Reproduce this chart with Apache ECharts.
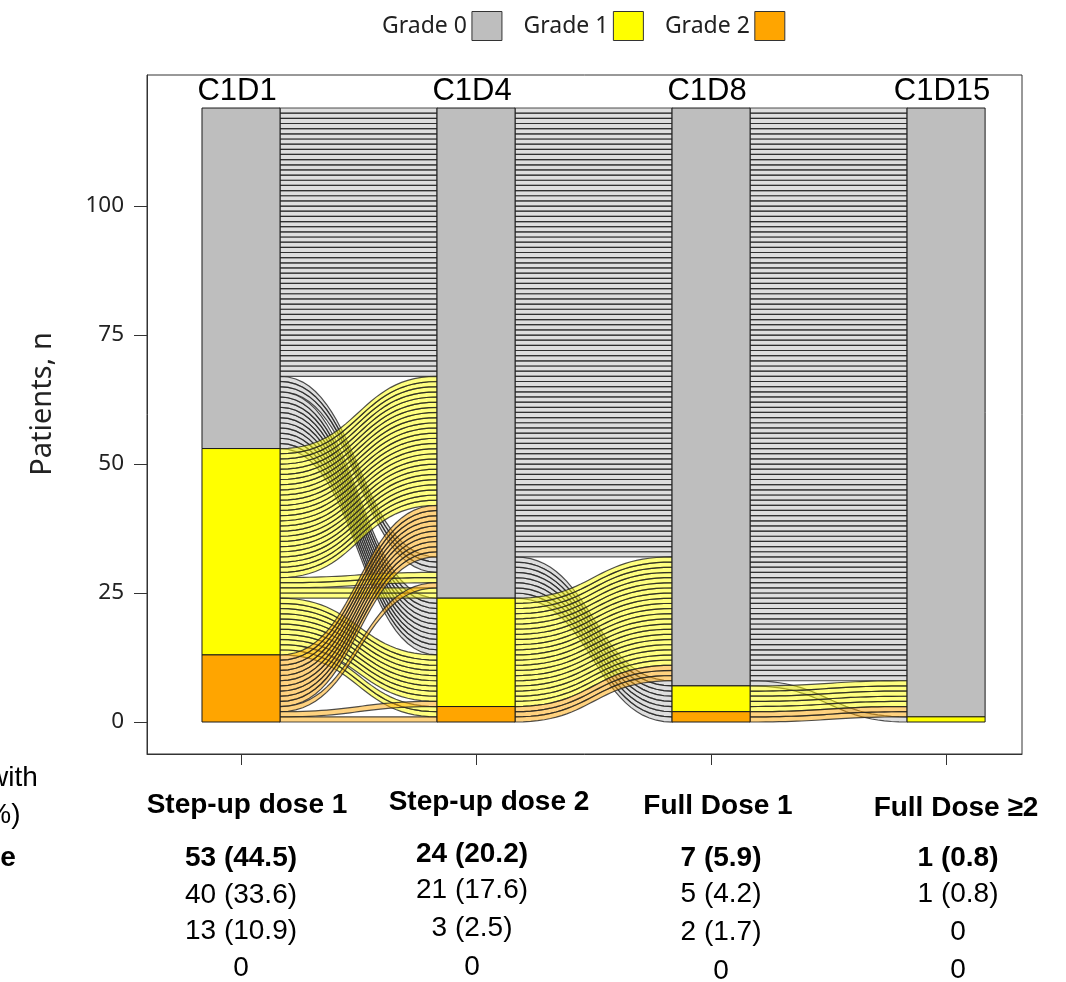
<!DOCTYPE html>
<html><head><meta charset="utf-8">
<script src="https://cdn.jsdelivr.net/npm/echarts@6/dist/echarts.min.js"></script>
<style>html,body{margin:0;padding:0;background:#fff}#c{width:1066px;height:982px}</style>
</head><body><div id="c"></div>
<script>
// ---------- data ----------
const stages = ['C1D1', 'C1D4', 'C1D8', 'C1D15'];
const doseLabels = ['Step-up dose 1', 'Step-up dose 2', 'Full Dose 1', 'Full Dose \u22652'];
const gradeNames = ['Grade 0', 'Grade 1', 'Grade 2'];
// patient paths (grade at each visit) and number of patients following each path
const pathCount = [52, 1, 2, 11, 25, 2, 2, 9, 2, 10, 1, 1, 1];
const pathC1D1  = [0, 0, 0, 0, 1, 1, 1, 1, 1, 2, 2, 2, 2];
const pathC1D4  = [0, 0, 0, 1, 0, 0, 0, 1, 2, 0, 0, 1, 2];
const pathC1D8  = [0, 0, 1, 0, 0, 1, 2, 0, 0, 0, 1, 0, 0];
const pathC1D15 = [0, 1, 0, 0, 0, 0, 0, 0, 0, 0, 0, 0, 0];
const yTicks = [0, 25, 50, 75, 100];
const yTitle = 'Patients, n';
// table under the chart
const rowLabels = ['Any grade', 'Grade 1', 'Grade 2', 'Grade \u22653'];
const headLabels = ['Patients with', 'CRS, n (%)'];
const anyGradeRow = ['53 (44.5)', '24 (20.2)', '7 (5.9)', '1 (0.8)'];
const grade1Row   = ['40 (33.6)', '21 (17.6)', '5 (4.2)', '1 (0.8)'];
const grade2Row   = ['13 (10.9)', '3 (2.5)', '2 (1.7)', '0'];
const grade3Row   = ['0', '0', '0', '0'];

// ---------- styles / layout ----------
const barColors  = ['#BEBEBE', '#FFFF00', '#FFA500'];
const flowColors = ['rgba(190,190,190,0.5)', 'rgba(255,255,0,0.5)', 'rgba(255,165,0,0.5)'];
const HALF = 0.166;            // half bar width in x units
const LABEL_Y = 122.2;         // stage label position in y units
const ARIAL = '"Liberation Sans", Arial, sans-serif';
const SANS = '"Noto Sans", "Open Sans", sans-serif';

// ---------- alluvial layout ----------
const nS = stages.length;
const patients = [];
pathCount.forEach((n, k) => {
  const g = [pathC1D1[k], pathC1D4[k], pathC1D8[k], pathC1D15[k]];
  for (let j = 0; j < n; j++) patients.push({ g });
});
const rank = g => 2 - g;
const pos = patients.map(() => []);
for (let i = 0; i < nS; i++) {
  const keys = [i];
  for (let a = i + 1; a < nS; a++) keys.push(a);
  for (let a = i - 1; a >= 0; a--) keys.push(a);
  const idx = patients.map((_, q) => q);
  idx.sort((A, B) => {
    for (const a of keys) {
      const d = rank(patients[A].g[a]) - rank(patients[B].g[a]);
      if (d) return d;
    }
    return A - B;
  });
  idx.forEach((q, r) => { pos[q][i] = r; });
}
// bar segments
const barData = [[], [], []];
for (let i = 0; i < nS; i++) {
  let bottom = 0;
  for (const gr of [2, 1, 0]) {
    const c = patients.filter(p => p.g[i] === gr).length;
    barData[gr].push([i, bottom, c]);
    bottom += c;
  }
}
// flow data: [segment, yStart, yEnd, sourceGrade]
const flowData = [];
for (const gr of [0, 1, 2]) {
  for (let s = 0; s < nS - 1; s++) {
    patients.forEach((p, q) => {
      if (p.g[s] === gr) flowData.push([s, pos[q][s], pos[q][s + 1], gr]);
    });
  }
}

function bez(p, q, t) {
  const mx = (p[0] + q[0]) / 2, u = 1 - t;
  return [u*u*u*p[0] + 3*u*u*t*mx + 3*u*t*t*mx + t*t*t*q[0],
          u*u*u*p[1] + 3*u*u*t*p[1] + 3*u*t*t*q[1] + t*t*t*q[1]];
}

const chart = echarts.init(document.getElementById('c'), null, { renderer: 'canvas' });

const barSeries = [0, 1, 2].map(gr => ({
  type: 'custom', name: gradeNames[gr], z: 3, animation: false,
  itemStyle: { color: barColors[gr] },
  data: barData[gr],
  renderItem: (params, api) => {
    const i = api.value(0), b = api.value(1), c = api.value(2);
    if (!c) return { type: 'group', children: [] };
    const p0 = api.coord([i - HALF, b + c]);
    const p1 = api.coord([i + HALF, b]);
    return { type: 'rect', shape: { x: p0[0], y: p0[1], width: p1[0] - p0[0], height: p1[1] - p0[1] },
      style: { fill: barColors[gr], stroke: '#1a1a1a', lineWidth: 1 } };
  }
}));

const option = {
  animation: false,
  backgroundColor: '#fff',
  legend: {
    data: gradeNames, left: 377, top: 6, align: 'right', icon: 'rect',
    itemWidth: 30, itemHeight: 29, itemGap: 21,
    itemStyle: { borderColor: '#333', borderWidth: 1 },
    textStyle: { fontSize: 23, fontFamily: SANS, color: '#222' }
  },
  grid: { left: 147, right: 44, top: 75, bottom: 228, show: true, borderColor: '#333', borderWidth: 1 },
  xAxis: {
    type: 'value', min: -0.4, max: 3.323,
    splitLine: { show: false },
    axisLine: { show: true, onZero: false, lineStyle: { color: '#333' } },
    axisTick: { show: true, customValues: [0, 1, 2, 3], length: 11, lineStyle: { color: '#333' } },
    axisLabel: { show: false }
  },
  yAxis: {
    type: 'value', min: -6.2, max: 125.4,
    splitLine: { show: false },
    axisLine: { show: true, onZero: false, lineStyle: { color: '#333' } },
    axisTick: { show: true, customValues: yTicks, length: 13, lineStyle: { color: '#333' } },
    axisLabel: { customValues: yTicks, margin: 23, fontSize: 22.5, fontFamily: SANS, color: '#222' }
  },
  series: [
    {
      type: 'custom', z: 2, animation: false, silent: true,
      data: flowData,
      renderItem: (params, api) => {
        const s = api.value(0), y0 = api.value(1), y1 = api.value(2), g = api.value(3);
        const a0 = api.coord([s + HALF, y0]), a1 = api.coord([s + HALF, y0 + 1]);
        const b0 = api.coord([s + 1 - HALF, y1]), b1 = api.coord([s + 1 - HALF, y1 + 1]);
        const N = 28, pts = [];
        for (let k = 0; k <= N; k++) pts.push(bez(a0, b0, k / N));
        for (let k = 0; k <= N; k++) pts.push(bez(b1, a1, k / N));
        return { type: 'polygon', shape: { points: pts },
          style: { fill: flowColors[g], stroke: 'rgba(35,35,35,0.8)', lineWidth: 1.2 } };
      }
    },
    ...barSeries,
    {
      type: 'custom', z: 4, animation: false, silent: true,
      data: stages.map((s, i) => [i]),
      renderItem: (params, api) => {
        const i = api.value(0);
        const p = api.coord([i, LABEL_Y]);
        return { type: 'text', x: p[0] - 4, y: p[1],
          style: { text: stages[params.dataIndex], fill: '#000', font: '31px ' + ARIAL,
            textAlign: 'center', textVerticalAlign: 'middle' } };
      }
    }
  ],
  graphic: [
    { type: 'text', x: 43, y: 404, rotation: Math.PI / 2,
      style: { text: yTitle, font: '29px ' + SANS, fill: '#222', textAlign: 'center', textVerticalAlign: 'middle' } }
  ]
};

// table text
const headX = [247, 489, 718, 956], headY = [805, 802, 806, 808];
const cellX = [241, 472, 721, 958];
const cellY = [[858, 895, 931, 968], [854, 890, 928, 967], [858, 894, 932, 971], [858, 894, 932, 970]];
const rows = [anyGradeRow, grade1Row, grade2Row, grade3Row];
doseLabels.forEach((t, c) => {
  option.graphic.push({ type: 'text', x: headX[c], y: headY[c],
    style: { text: t, font: 'bold 28px ' + ARIAL, fill: '#000', textAlign: 'center', textVerticalAlign: 'middle' } });
  rows.forEach((row, r) => {
    option.graphic.push({ type: 'text', x: cellX[c], y: cellY[c][r],
      style: { text: row[c], font: (r === 0 ? 'bold ' : '') + '28px ' + ARIAL, fill: '#000',
        textAlign: 'center', textVerticalAlign: 'middle' } });
  });
});
const leftX = -121;
headLabels.forEach((t, r) => {
  option.graphic.push({ type: 'text', x: leftX, y: [778, 815][r],
    style: { text: t, font: '28px ' + ARIAL, fill: '#000', textAlign: 'left', textVerticalAlign: 'middle' } });
});
rowLabels.forEach((t, r) => {
  option.graphic.push({ type: 'text', x: leftX, y: cellY[0][r],
    style: { text: t, font: (r === 0 ? 'bold ' : '') + '28px ' + ARIAL, fill: '#000', textAlign: 'left', textVerticalAlign: 'middle' } });
});

chart.setOption(option);
</script></body></html>
